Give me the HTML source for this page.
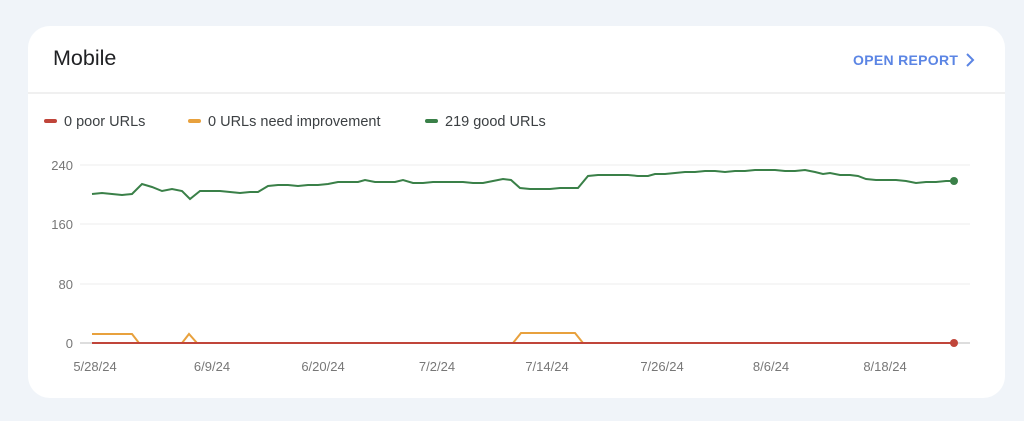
<!DOCTYPE html>
<html><head><style>
body{margin:0;width:1024px;height:421px;background:#f0f4f9;font-family:"Liberation Sans",Arial,sans-serif;overflow:hidden}
.card{position:absolute;left:28px;top:26px;width:977px;height:372px;background:#fff;border-radius:22px}
</style></head><body>
<div class="card"></div>
<svg width="1024" height="421" style="position:absolute;left:0;top:0" font-family="Liberation Sans, Arial, sans-serif">
<text x="53" y="65" font-size="21.5" fill="#202124">Mobile</text>
<text x="853" y="65" font-size="14" fill="#5b85e4" letter-spacing="0.3" font-weight="bold">OPEN REPORT</text>
<path d="M967 54 L973 60 L967 66" fill="none" stroke="#5b85e4" stroke-width="2"/>
<line x1="28" y1="93" x2="1005" y2="93" stroke="#e0e0e0"/>
<line x1="46" y1="121" x2="55" y2="121" stroke="#c0453a" stroke-width="4" stroke-linecap="round"/>
<text x="64" y="126" font-size="14.5" fill="#3c4043">0 poor URLs</text>
<line x1="190" y1="121" x2="199" y2="121" stroke="#e8a13d" stroke-width="4" stroke-linecap="round"/>
<text x="208" y="126" font-size="14.5" fill="#3c4043">0 URLs need improvement</text>
<line x1="427" y1="121" x2="436" y2="121" stroke="#3a8048" stroke-width="4" stroke-linecap="round"/>
<text x="445" y="126" font-size="14.5" fill="#3c4043">219 good URLs</text>
<g stroke="#eeeeee"><line x1="80" y1="165" x2="970" y2="165"/><line x1="80" y1="224" x2="970" y2="224"/><line x1="80" y1="284" x2="970" y2="284"/></g>
<line x1="80" y1="343" x2="970" y2="343" stroke="#bbb"/>
<g font-size="13" fill="#777" text-anchor="end"><text x="73" y="170">240</text><text x="73" y="229">160</text><text x="73" y="289">80</text><text x="73" y="348">0</text></g>
<g font-size="13" fill="#777" text-anchor="middle"><text x="95" y="371">5/28/24</text><text x="212" y="371">6/9/24</text><text x="323" y="371">6/20/24</text><text x="437" y="371">7/2/24</text><text x="547" y="371">7/14/24</text><text x="662" y="371">7/26/24</text><text x="771" y="371">8/6/24</text><text x="885" y="371">8/18/24</text></g>
<polyline fill="none" stroke="#3a8048" stroke-width="2" points="92,194 102,193 112,194 122,195 132,194 142,184 152,187 162,191 172,189 182,191 190,199 200,191 210,191 220,191 230,192 240,193 250,192 258,192 268,186 278,185 288,185 298,186 308,185 318,185 328,184 338,182 348,182 358,182 365,180 375,182 385,182 395,182 403,180 413,183 423,183 433,182 443,182 453,182 463,182 473,183 483,183 493,181 503,179 511,180 520,188 530,189 540,189 550,189 560,188 570,188 578,188 588,176 598,175 608,175 618,175 628,175 638,176 648,176 655,174 665,174 675,173 685,172 695,172 705,171 715,171 725,172 735,171 745,171 755,170 765,170 775,170 785,171 795,171 805,170 815,172 823,174 830,173 840,175 850,175 858,176 866,179 876,180 886,180 896,180 906,181 916,183 926,182 936,182 946,181 954,181"/>
<circle cx="954" cy="181" r="4" fill="#3a8048"/>
<polyline fill="none" stroke="#e8a13d" stroke-width="2" points="92,334 132,334 139,343 182,343 189,334 197,343 513,343 521,333 575,333 583,343 954,343"/>
<line x1="92" y1="343" x2="954" y2="343" stroke="#c0453a" stroke-width="2"/>
<circle cx="954" cy="343" r="4" fill="#c0453a"/>
</svg>
</body></html>
